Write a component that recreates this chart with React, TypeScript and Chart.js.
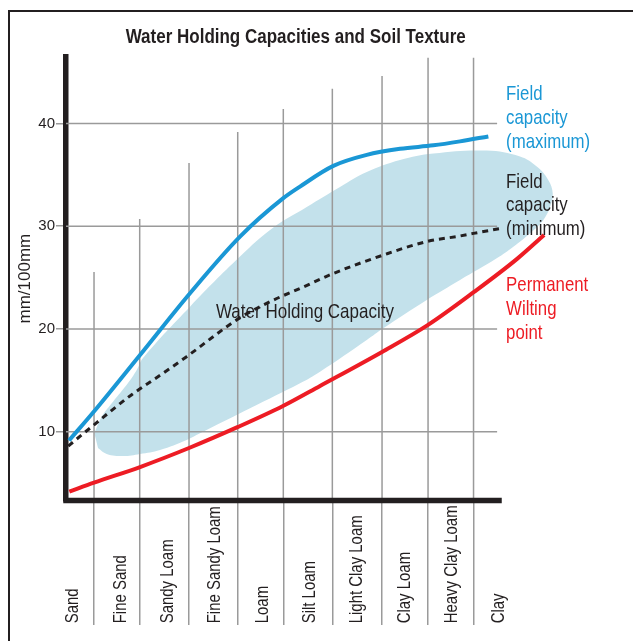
import React, { useEffect, useRef } from 'react';
import { Chart, registerables } from 'chart.js';

Chart.register(...registerables);

// ---------- data ----------
const textures = [
  'Sand', 'Fine Sand', 'Sandy Loam', 'Fine Sandy Loam', 'Loam',
  'Silt Loam', 'Light Clay Loam', 'Clay Loam', 'Heavy Clay Loam', 'Clay',
];
const texturePositions = [0, 1, 2, 3, 4, 5, 6, 7, 8, 9];
const dividerX = [0.444, 1.409, 2.451, 3.48, 4.443, 5.479, 6.529, 7.501, 8.462];
const dividerTop = [25.55, 30.71, 36.16, 39.18, 41.42, 43.37, 44.63, 46.4, 46.4];
const yTickValues = [10, 20, 30, 40];
const gridEndX = 8.96;
const axisEndX = 9.0;

const fcMaxX = [-0.085, 0.429, 1.416, 2.472, 3.528, 4.443, 4.796, 5.5, 6.206, 6.909, 7.613, 8.177, 8.775];
const fcMaxY = [9.14, 11.89, 17.47, 23.48, 28.99, 32.73, 33.86, 35.87, 36.94, 37.53, 37.87, 38.26, 38.74];

const fcMinX = [-0.1, 0.4, 1.24, 1.94, 2.4, 3.53, 4.23, 4.8, 5.5, 6.56, 7.47, 8.18, 8.46, 9.06];
const fcMinY = [8.6, 10.5, 13.6, 15.8, 17.3, 21.1, 22.8, 23.95, 25.4, 27.2, 28.5, 29.05, 29.3, 29.8];

const pwpX = [-0.078, 0.444, 1.416, 2.451, 3.486, 4.437, 5.219, 6.529, 7.501, 8.473, 9.382, 9.953];
const pwpY = [4.16, 5.04, 6.56, 8.41, 10.46, 12.5, 14.45, 17.76, 20.39, 23.6, 26.82, 29.15];

const blobX = [0.45, 0.606, 0.845, 1.162, 1.346, 1.479, 2.472, 3.528, 4.226, 4.938, 5.641, 6.206, 6.909, 7.613,
  8.741, 9.444, 9.797, 10.04, 10.135, 10.08, 9.937, 9.656, 9.303, 8.952, 8.177, 7.473, 6.556, 6.206, 5.219,
  4.796, 3.74, 2.683, 2.402, 1.838, 1.416, 1.056, 0.712, 0.528];
const blobY = [9.87, 11.46, 12.92, 14.74, 16.01, 17.18, 22.17, 27.04, 29.84, 31.87, 33.82, 35.28, 36.45, 37.08,
  37.36, 36.78, 35.8, 34.51, 33.21, 31.91, 30.61, 29.32, 28.01, 26.88, 24.77, 22.82, 20.07, 18.93, 15.84,
  14.71, 12.28, 9.84, 9.19, 8.22, 7.83, 7.63, 7.83, 8.41];

const Y_MIN = 3.3;
const Y_MAX = 46.5;
const X_MIN = -0.148;
const X_MAX = 10.5;

const TITLE = 'Water Holding Capacities and Soil Texture';
const Y_TITLE = 'mm/100mm';
const AREA_LABEL = 'Water Holding Capacity';

// ---------- style ----------
const FONT = "'Liberation Sans', Arial, sans-serif";
const NARROW = 0.82;
const DARK = '#231f20';
const BLUE = '#1a97d5';
const RED = '#ed1c24';
const GRID = '#9a9a9a';
const BLOB = '#c3e1eb';

const annotations = [
  { lines: ['Field', 'capacity', '(maximum)'], x: 9.15, y: 42.25, color: BLUE },
  { lines: ['Field', 'capacity', '(minimum)'], x: 9.15, y: 33.76, color: DARK },
  { lines: ['Permanent', 'Wilting', 'point'], x: 9.15, y: 23.7, color: RED },
];

const pts = (xs: number[], ys: number[]) => xs.map((x, i) => ({ x, y: ys[i] }));

function narrowText(ctx: CanvasRenderingContext2D, text: string, x: number, y: number, align: CanvasTextAlign, rot = 0, sx = NARROW) {
  ctx.save();
  ctx.translate(x, y);
  if (rot) ctx.rotate(rot);
  ctx.scale(sx, 1);
  ctx.textAlign = align;
  ctx.fillText(text, 0, 0);
  ctx.restore();
}

const textPlugin = {
  id: 'textPlugin',
  afterDraw(chart: any) {
    const { ctx, scales } = chart;
    const xs = scales.x;
    const ys = scales.y;
    ctx.save();
    ctx.textBaseline = 'alphabetic';
    // title
    ctx.fillStyle = DARK;
    ctx.font = `bold 20px ${FONT}`;
    narrowText(ctx, TITLE, 295.7, 42.5, 'center', 0, 0.85);

    // area label
    ctx.font = `21px ${FONT}`;
    narrowText(ctx, AREA_LABEL, xs.getPixelForValue(3.02), ys.getPixelForValue(21.04), 'left', 0, 0.81);

    // right annotations
    for (const a of annotations) {
      ctx.fillStyle = a.color;
      const px = xs.getPixelForValue(a.x);
      const py = ys.getPixelForValue(a.y);
      a.lines.forEach((t, i) => narrowText(ctx, t, px, py + i * 23.8, 'left', 0, 0.8));
    }

    // category labels
    ctx.fillStyle = DARK;
    ctx.font = `18px ${FONT}`;
    ctx.textBaseline = 'middle';
    const base = chart.chartArea.bottom + 122.8;
    textures.forEach((t, i) => {
      const px = xs.getPixelForValue(texturePositions[i]);
      narrowText(ctx, t, px + 0.5, base, 'left', -Math.PI / 2, 0.83);
    });
    ctx.restore();
  },
};

export default function App() {
  const ref = useRef<HTMLCanvasElement>(null);
  useEffect(() => {
    if (!ref.current) return;
    const lineBase = { pointRadius: 0, clip: false as any, fill: false };
    const datasets: any[] = [];
    datasets.push({
      ...lineBase,
      data: pts(blobX, blobY),
      fill: 'shape',
      backgroundColor: BLOB,
      borderColor: 'rgba(0,0,0,0)',
      borderWidth: 0,
      tension: 0.4,
      order: 20,
    });
    yTickValues.forEach((v) => {
      datasets.push({
        ...lineBase,
        data: [{ x: X_MIN, y: v }, { x: gridEndX, y: v }],
        borderColor: GRID,
        borderWidth: 1.5,
        order: 10,
      });
    });
    dividerX.forEach((dx, i) => {
      datasets.push({
        ...lineBase,
        data: [{ x: dx, y: Y_MIN }, { x: dx, y: dividerTop[i] }],
        borderColor: GRID,
        borderWidth: 1.5,
        order: 10,
      });
    });
    datasets.push({
      ...lineBase,
      data: pts(pwpX, pwpY),
      borderColor: RED,
      borderWidth: 4,
      cubicInterpolationMode: 'monotone',
      order: 3,
    });
    datasets.push({
      ...lineBase,
      data: pts(fcMinX, fcMinY),
      borderColor: DARK,
      borderWidth: 3,
      borderDash: [6, 5],
      cubicInterpolationMode: 'monotone',
      order: 2,
    });
    datasets.push({
      ...lineBase,
      data: pts(fcMaxX, fcMaxY),
      borderColor: BLUE,
      borderWidth: 4,
      cubicInterpolationMode: 'monotone',
      order: 1,
    });
    datasets.push({
      ...lineBase,
      data: [{ x: X_MIN, y: Y_MIN }, { x: axisEndX, y: Y_MIN }],
      borderColor: DARK,
      borderWidth: 5.5,
      borderCapStyle: 'square',
      order: 0,
    });

    const chart = new Chart(ref.current, {
      type: 'line',
      data: { datasets },
      options: {
        responsive: false,
        animation: false,
        devicePixelRatio: 1,
        events: [],
        layout: { padding: { top: 56.7, right: 63, left: 0, bottom: 0 } },
        plugins: {
          legend: { display: false },
          tooltip: { enabled: false },
          title: { display: false },
        },
        scales: {
          x: {
            type: 'linear',
            min: X_MIN,
            max: X_MAX,
            bounds: 'data',
            afterBuildTicks: (s: any) => { s.ticks = dividerX.map((v) => ({ value: v })); },
            afterFit: (s: any) => { s.height = 140.5; },
            ticks: { display: false },
            grid: { drawOnChartArea: false, drawTicks: true, tickLength: 124.5, color: GRID, lineWidth: 1.5 },
            border: { display: false },
          },
          y: {
            type: 'linear',
            min: Y_MIN,
            max: Y_MAX,
            bounds: 'data',
            z: 1,
            afterBuildTicks: (s: any) => { s.ticks = yTickValues.map((v) => ({ value: v })); },
            afterFit: (s: any) => { s.width = 66; },
            ticks: { font: { family: FONT, size: 15 }, color: DARK, padding: 1 },
            grid: { drawOnChartArea: false, drawTicks: true, tickLength: 10, color: GRID, lineWidth: 1.5 },
            border: { display: true, color: DARK, width: 5.5 },
            title: {
              display: true,
              text: Y_TITLE,
              font: { family: FONT, size: 17 },
              color: DARK,
              padding: { top: 15.5, bottom: 0 },
            },
          },
        },
      } as any,
      plugins: [textPlugin],
    });
    return () => chart.destroy();
  }, []);

  return (
    <div style={{ position: 'fixed', left: 0, top: 0, width: 633, height: 641, background: '#fff', overflow: 'hidden' }}>
      <div style={{ position: 'absolute', left: 8, top: 10, width: 700, height: 700, borderLeft: '2px solid #231f20', borderTop: '2px solid #231f20' }} />
      <canvas ref={ref} width={633} height={641} style={{ position: 'absolute', left: 0, top: 0 }} />
    </div>
  );
}
